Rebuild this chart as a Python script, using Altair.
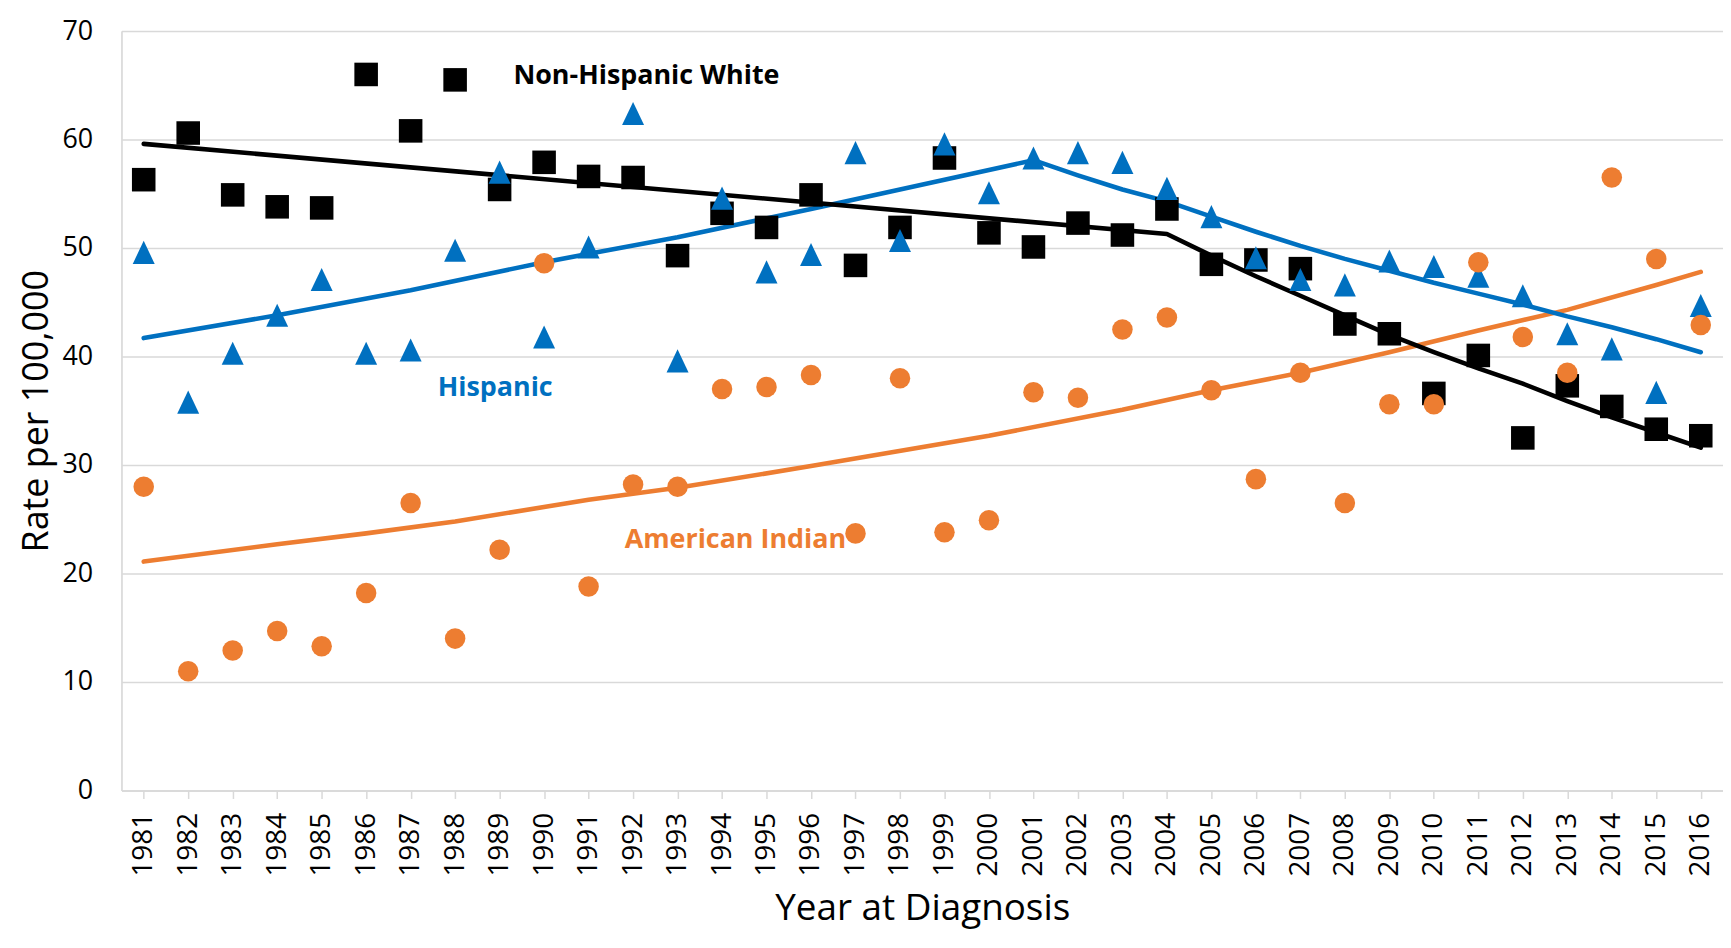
import altair as alt
import pandas as pd

# ---------------- data ----------------
years = list(range(1981, 2017))

nhw_rate = [56.3, 60.6, 54.9, 53.8, 53.7, 66.0, 60.8, 65.5, 55.4, 57.9,
            56.6, 56.5, 49.3, 53.2, 51.9, 54.9, 48.4, 51.9, 58.3, 51.4,
            50.1, 52.3, 51.2, 53.6, 48.5, 48.9, 48.1, 43.0, 42.1, 36.6,
            40.1, 32.5, 37.3, 35.4, 33.3, 32.7]

hisp_rate = [49.6, 35.8, 40.3, 43.8, 47.1, 40.3, 40.6, 49.8, 57.0, 41.8,
             50.1, 62.4, 39.6, 54.6, 47.8, 49.4, 58.8, 50.7, 59.6, 55.1,
             58.3, 58.8, 57.9, 55.5, 52.9, 49.1, 47.1, 46.6, 48.8, 48.3,
             47.4, 45.6, 42.1, 40.7, 36.7, 44.7]

ai_rate = [28.0, 11.0, 12.9, 14.7, 13.3, 18.2, 26.5, 14.0, 22.2, 48.6,
           18.8, 28.2, 28.0, 37.0, 37.2, 38.3, 23.7, 38.0, 23.8, 24.9,
           36.7, 36.2, 42.5, 43.6, 36.9, 28.7, 38.5, 26.5, 35.6, 35.6,
           48.7, 41.8, 38.5, 56.5, 49.0, 42.9]

nhw_trend_years = [1981, 2004, 2005, 2006, 2007, 2008, 2009, 2010, 2011,
                   2012, 2013, 2014, 2015, 2016]
nhw_trend = [59.6, 51.3, 49.3, 47.4, 45.6, 43.8, 42.0, 40.4, 38.9,
             37.5, 35.9, 34.4, 33.0, 31.6]

hisp_trend_years = [1981, 1984, 1987, 1990, 1993, 1996, 1999, 2001, 2002,
                    2003, 2004, 2005, 2006, 2007, 2008, 2009, 2010, 2011,
                    2012, 2013, 2014, 2015, 2016]
hisp_trend = [41.7, 43.8, 46.1, 48.7, 51.0, 53.6, 56.3, 58.1, 56.7,
              55.4, 54.3, 52.9, 51.5, 50.2, 49.0, 47.9, 46.8, 45.8,
              44.8, 43.7, 42.7, 41.6, 40.4]

ai_trend_years = [1981, 1984, 1986, 1988, 1991, 1993, 1996, 2000, 2003,
                  2005, 2007, 2009, 2011, 2013, 2015, 2016]
ai_trend = [21.1, 22.7, 23.7, 24.8, 26.8, 27.9, 29.9, 32.7, 35.1,
            36.9, 38.5, 40.4, 42.4, 44.3, 46.6, 47.8]

label_text = ["Non-Hispanic White", "Hispanic", "American Indian"]
label_year = [1992.3, 1988.9, 1994.3]
label_rate = [65.15, 36.4, 22.35]

y_ticks = [0, 10, 20, 30, 40, 50, 60, 70]

# ---------------- styling ----------------
FONT = "Open Sans"
BLACK = "#000000"
BLUE = "#0070C0"
ORANGE = "#ED7D31"
GRID = "#D9D9D9"
W, H = 1609, 763

x_scale = alt.Scale(domain=[1980.5, 2016.5], nice=False, zero=False)
y_scale = alt.Scale(domain=[0, 70], nice=False, zero=True)

x_axis = alt.Axis(
    values=years, format="d", labelAngle=270, labelOverlap=False, labelFlush=False,
    grid=False, domainColor=GRID, domainWidth=1.5, tickColor=GRID, tickWidth=1.5,
    tickSize=8, labelPadding=14, labelFont=FONT, labelFontSize=28, labelColor=BLACK,
    title="Year at Diagnosis", titleFont=FONT, titleFontSize=37, titleFontWeight="normal",
    titleColor=BLACK, titleBaseline="alphabetic", titleY=130,
)
y_axis = alt.Axis(
    values=y_ticks, format="d", grid=True, gridColor=GRID, gridWidth=1.5,
    domainColor=GRID, domainWidth=1.5, ticks=False, tickSize=0, labelPadding=29,
    labelFont=FONT, labelFontSize=27, labelColor=BLACK,
    title="Rate per 100,000", titleFont=FONT, titleFontSize=36, titleFontWeight="normal",
    titleColor=BLACK, titleAngle=270, titleBaseline="alphabetic", titleAlign="center",
    titleX=-74, titleY=H / 2,
)

X = alt.X("year:Q", scale=x_scale, axis=x_axis)
Y = alt.Y("rate:Q", scale=y_scale, axis=y_axis)


def df_of(xs, ys):
    return pd.DataFrame({"year": xs, "rate": ys})


def trend(xs, ys, color):
    return alt.Chart(df_of(xs, ys)).mark_line(
        color=color, strokeWidth=4.6, strokeCap="round", strokeJoin="round"
    ).encode(x=X, y=Y)


tri_path = "M0,-1L0.95,1L-0.95,1Z"

squares = alt.Chart(df_of(years, nhw_rate)).mark_square(
    size=560, color=BLACK, opacity=1
).encode(x=X, y=Y)

triangles = alt.Chart(df_of(years, hisp_rate)).mark_point(
    shape=tri_path, size=540, filled=True, color=BLUE, opacity=1, strokeWidth=0
).encode(x=X, y=Y)

circles = alt.Chart(df_of(years, ai_rate)).mark_circle(
    size=425, color=ORANGE, opacity=1
).encode(x=X, y=Y)

labels_df = pd.DataFrame({
    "year": label_year, "rate": label_rate, "text": label_text,
    "col": [BLACK, BLUE, ORANGE],
})
labels = alt.Chart(labels_df).mark_text(
    font=FONT, fontSize=27, fontWeight="bold", align="center", baseline="alphabetic"
).encode(x=X, y=Y, text="text:N", color=alt.Color("col:N", scale=None))

chart = alt.layer(
    trend(ai_trend_years, ai_trend, ORANGE),
    trend(hisp_trend_years, hisp_trend, BLUE),
    trend(nhw_trend_years, nhw_trend, BLACK),
    squares,
    triangles,
    circles,
    labels,
).properties(
    width=W, height=H,
    autosize=alt.AutoSizeParams(type="none"),
    padding={"left": 114, "top": 21, "right": 0, "bottom": 141},
).configure_view(stroke=None).configure(background="white")

chart.save("out.html", embed_options={"renderer": "svg", "actions": False})
